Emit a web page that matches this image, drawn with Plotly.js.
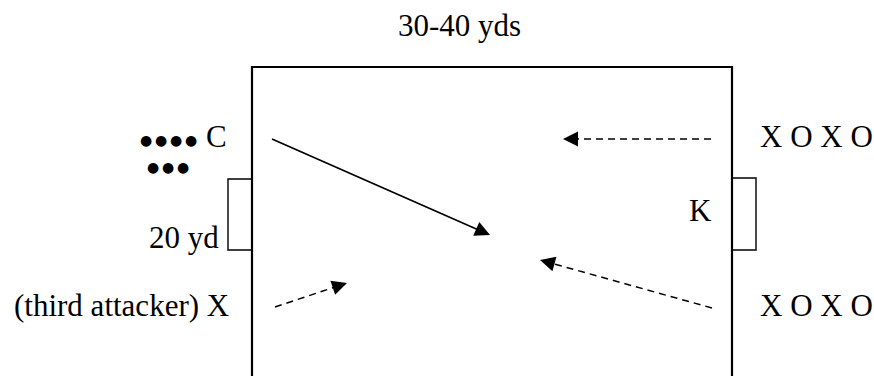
<!DOCTYPE html>
<html>
<head>
<meta charset="utf-8">
<script src="https://cdn.plot.ly/plotly-3.0.1.min.js"></script>
<style>html,body{margin:0;padding:0;background:#fff;}#chart{width:874px;height:376px;}</style>
</head>
<body>
<div id="chart"></div>
<script>
// ---- diagram data (page-like coordinates: x to the right, y downward) ----
const fieldX = [252, 252, 732, 732];
const fieldY = [400, 67, 67, 400];

const leftGoalX = [252, 228, 228, 252];
const leftGoalY = [179, 179, 250, 250];
const rightGoalX = [732, 756, 756, 732];
const rightGoalY = [178, 178, 250, 250];

// runs / passes
const arrowStartX = [272, 711, 712, 275];
const arrowStartY = [139, 139, 308, 307];
const arrowEndX   = [490, 563, 540, 347];
const arrowEndY   = [235, 139, 260, 283];
const arrowDashed = [false, true, true, true];

// text labels
const labelText   = ['30-40 yds', 'C', '20 yd', 'K', '(third attacker) X', 'X O X O', 'X O X O'];
const labelX      = [459, 204, 221, 700, 231, 758, 758];
const labelY      = [25, 136, 237, 210, 305, 136, 305];
const labelAnchor = ['center', 'left', 'right', 'center', 'right', 'left', 'left'];

// queue of waiting players (bullets)
const queueText = ['●\u2009●\u2009●\u2009●', '●\u2009●\u2009●'];
const queueX    = [168, 168];
const queueY    = [140, 167];

// ---- build ----
const SERIF = 'Liberation Serif, Times New Roman, serif';
const traces = [];
traces.push({x: fieldX, y: fieldY, mode: 'lines', line: {color: '#000', width: 2.2}, hoverinfo: 'skip'});
traces.push({x: leftGoalX, y: leftGoalY, mode: 'lines', line: {color: '#000', width: 1.4}, hoverinfo: 'skip'});
traces.push({x: rightGoalX, y: rightGoalY, mode: 'lines', line: {color: '#000', width: 1.4}, hoverinfo: 'skip'});

const annotations = [];
for (let i = 0; i < arrowStartX.length; i++) {
  const dx = arrowEndX[i] - arrowStartX[i];
  const dy = arrowEndY[i] - arrowStartY[i];
  const len = Math.sqrt(dx * dx + dy * dy);
  const ux = dx / len, uy = dy / len;
  traces.push({
    x: [arrowStartX[i], arrowEndX[i] - 10 * ux],
    y: [arrowStartY[i], arrowEndY[i] - 10 * uy],
    mode: 'lines',
    line: {color: '#000', width: arrowDashed[i] ? 1.5 : 1.7, dash: arrowDashed[i] ? '7px,5px' : 'solid'},
    hoverinfo: 'skip'
  });
  annotations.push({
    x: arrowEndX[i], y: arrowEndY[i], xref: 'x', yref: 'y',
    ax: arrowEndX[i] - 14 * ux, ay: arrowEndY[i] - 14 * uy, axref: 'x', ayref: 'y',
    text: '', showarrow: true, arrowhead: 2, arrowsize: 2, arrowwidth: 1.5,
    arrowcolor: '#000', standoff: 0, startstandoff: 0
  });
}
for (let i = 0; i < labelText.length; i++) {
  annotations.push({
    x: labelX[i], y: labelY[i], xref: 'x', yref: 'y', text: labelText[i],
    showarrow: false, xanchor: labelAnchor[i], yanchor: 'middle',
    font: {family: SERIF, size: 31, color: '#000'}
  });
}
for (let i = 0; i < queueText.length; i++) {
  annotations.push({
    x: queueX[i], y: queueY[i], xref: 'x', yref: 'y', text: queueText[i],
    showarrow: false, xanchor: 'center', yanchor: 'middle',
    font: {family: 'DejaVu Sans, sans-serif', size: 14, color: '#000'}
  });
}

const layout = {
  width: 874, height: 376,
  margin: {l: 0, r: 0, t: 0, b: 0},
  paper_bgcolor: '#fff', plot_bgcolor: '#fff',
  showlegend: false,
  xaxis: {range: [0, 874], visible: false, fixedrange: true},
  yaxis: {range: [376, 0], visible: false, fixedrange: true},
  annotations: annotations
};
Plotly.newPlot('chart', traces, layout, {staticPlot: true, displayModeBar: false});
</script>
</body>
</html>
